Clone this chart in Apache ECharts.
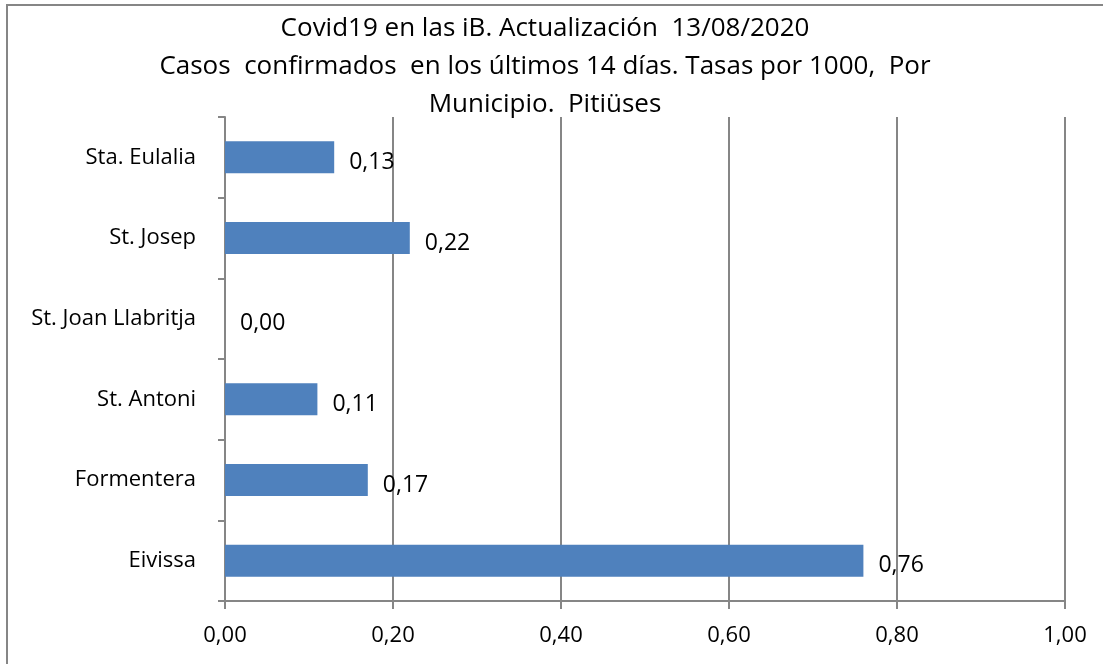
<!DOCTYPE html>
<html>
<head>
<meta charset="utf-8">
<script src="https://cdn.jsdelivr.net/npm/echarts@6/dist/echarts.min.js"></script>
<style>
  html, body { margin: 0; padding: 0; background: #fff; }
  #chart { width: 1103px; height: 664px; }
</style>
</head>
<body>
<div id="chart"></div>
<script>
// Municipalities, listed bottom to top on the category axis
const municipios = ['Eivissa', 'Formentera', 'St. Antoni', 'St. Joan Llabritja', 'St. Josep', 'Sta. Eulalia'];
// Confirmed cases in the last 14 days, rate per 1000 inhabitants
const tasas = [0.76, 0.17, 0.11, 0.00, 0.22, 0.13];
// Value axis range
const ejeMin = 0;
const ejeMax = 1;
const ejePaso = 0.2;

const titulo = 'Covid19 en las iB. Actualización  13/08/2020\n' +
  'Casos  confirmados  en los últimos 14 días. Tasas por 1000,  Por\n' +
  'Municipio.  Pitiüses';

const coma = v => v.toFixed(2).replace('.', ',');
const FONT = '"Open Sans", "Noto Sans", sans-serif';
const GRIS = '#868686';

const chart = echarts.init(document.getElementById('chart'), null, { renderer: 'canvas' });
chart.setOption({
  backgroundColor: '#ffffff',
  animation: false,
  graphic: [{
    type: 'rect',
    shape: { x: 7, y: 5, width: 1120, height: 700 },
    style: { fill: 'none', stroke: GRIS, lineWidth: 2 },
    silent: true
  }],
  title: {
    text: titulo,
    left: 540,
    top: 5,
    textAlign: 'center',
    textStyle: {
      fontFamily: FONT,
      fontSize: 26,
      fontWeight: 'normal',
      color: '#000',
      lineHeight: 38
    }
  },
  grid: { left: 225, right: 38, top: 117, bottom: 63, containLabel: false },
  xAxis: {
    type: 'value',
    min: ejeMin,
    max: ejeMax,
    interval: ejePaso,
    axisLine: { show: true, lineStyle: { color: GRIS, width: 2 } },
    axisTick: { show: true, length: 8, lineStyle: { color: GRIS, width: 2 } },
    splitLine: { show: true, lineStyle: { color: GRIS, width: 2 } },
    axisLabel: {
      formatter: v => coma(v),
      fontFamily: FONT,
      fontSize: 22,
      color: '#000',
      margin: 24
    }
  },
  yAxis: {
    type: 'category',
    data: municipios,
    axisLine: { show: true, lineStyle: { color: GRIS, width: 2 } },
    axisTick: { show: true, length: 7, lineStyle: { color: GRIS, width: 2 } },
    splitLine: { show: false },
    axisLabel: {
      fontFamily: FONT,
      fontSize: 22,
      color: '#000',
      margin: 29
    }
  },
  series: [{
    type: 'bar',
    data: tasas,
    barWidth: 32,
    itemStyle: { color: '#4F81BD' },
    label: {
      show: true,
      position: 'right',
      distance: 15,
      offset: [0, 5],
      formatter: p => coma(p.value),
      fontFamily: FONT,
      fontSize: 23,
      color: '#000'
    }
  }]
});
</script>
</body>
</html>
